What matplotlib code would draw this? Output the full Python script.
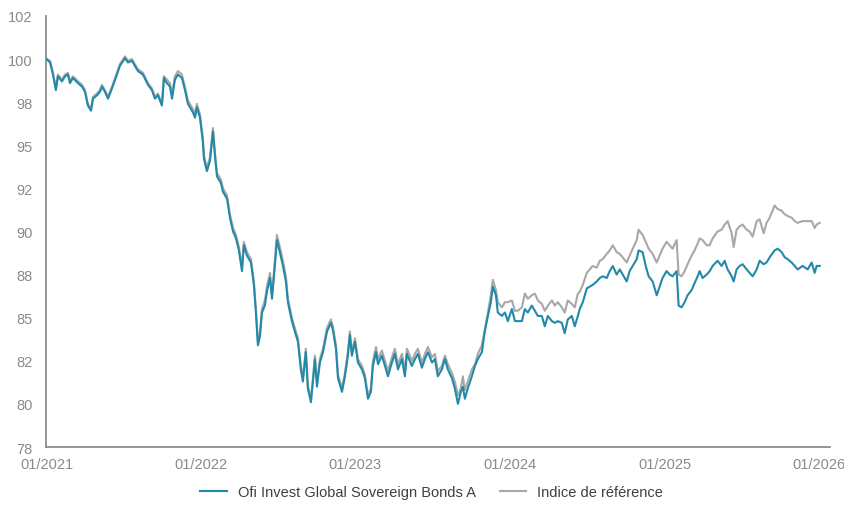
import matplotlib
matplotlib.use("Agg")
import matplotlib.pyplot as plt
import pandas as pd

# ---- data (decimal years, index values) ----
years = [
    2021.000, 2021.023, 2021.042, 2021.061, 2021.074, 2021.100, 2021.120, 2021.139, 2021.152, 2021.171,
    2021.204, 2021.230, 2021.249, 2021.268, 2021.288, 2021.301, 2021.327, 2021.346, 2021.359, 2021.378,
    2021.398, 2021.424, 2021.456, 2021.475, 2021.508, 2021.527, 2021.553, 2021.572, 2021.592, 2021.624,
    2021.657, 2021.682, 2021.702, 2021.721, 2021.747, 2021.760, 2021.779, 2021.799, 2021.812, 2021.831,
    2021.851, 2021.876, 2021.896, 2021.915, 2021.948, 2021.961, 2021.973, 2021.993, 2022.012, 2022.019,
    2022.038, 2022.058, 2022.077, 2022.090, 2022.103, 2022.129, 2022.142, 2022.168, 2022.187, 2022.207,
    2022.226, 2022.245, 2022.265, 2022.277, 2022.297, 2022.323, 2022.342, 2022.355, 2022.368, 2022.381,
    2022.394, 2022.413, 2022.426, 2022.446, 2022.459, 2022.472, 2022.491, 2022.510, 2022.530, 2022.549,
    2022.562, 2022.588, 2022.607, 2022.627, 2022.646, 2022.659, 2022.678, 2022.691, 2022.711, 2022.724,
    2022.737, 2022.750, 2022.769, 2022.789, 2022.802, 2022.815, 2022.840, 2022.853, 2022.873, 2022.886,
    2022.912, 2022.931, 2022.950, 2022.963, 2022.976, 2022.996, 2023.015, 2023.041, 2023.060, 2023.080,
    2023.099, 2023.112, 2023.132, 2023.145, 2023.170, 2023.190, 2023.209, 2023.235, 2023.254, 2023.274,
    2023.300, 2023.319, 2023.332, 2023.364, 2023.384, 2023.403, 2023.429, 2023.448, 2023.468, 2023.494,
    2023.513, 2023.532, 2023.558, 2023.578, 2023.597, 2023.623, 2023.642, 2023.662, 2023.681, 2023.694,
    2023.707, 2023.726, 2023.752, 2023.772, 2023.791, 2023.817, 2023.836, 2023.856, 2023.875, 2023.888,
    2023.908, 2023.920, 2023.946, 2023.966, 2023.985, 2024.011, 2024.031, 2024.050, 2024.076, 2024.095,
    2024.114, 2024.140, 2024.160, 2024.179, 2024.205, 2024.224, 2024.244, 2024.270, 2024.289, 2024.308,
    2024.334, 2024.353, 2024.373, 2024.399, 2024.418, 2024.438, 2024.450, 2024.470, 2024.496, 2024.515,
    2024.534, 2024.560, 2024.580, 2024.599, 2024.625, 2024.644, 2024.664, 2024.689, 2024.709, 2024.728,
    2024.754, 2024.773, 2024.793, 2024.819, 2024.831, 2024.857, 2024.877, 2024.896, 2024.922, 2024.948,
    2024.967, 2024.986, 2025.012, 2025.032, 2025.051, 2025.077, 2025.090, 2025.109, 2025.129, 2025.148,
    2025.174, 2025.193, 2025.213, 2025.226, 2025.245, 2025.271, 2025.291, 2025.310, 2025.342, 2025.368,
    2025.388, 2025.407, 2025.433, 2025.446, 2025.465, 2025.485, 2025.504, 2025.530, 2025.549, 2025.569,
    2025.595, 2025.614, 2025.640, 2025.659, 2025.679, 2025.711, 2025.731, 2025.757, 2025.776, 2025.795,
    2025.821, 2025.841, 2025.860, 2025.892, 2025.925, 2025.951, 2025.970, 2025.983, 2026.003,
]

fund = [
    100.0, 99.8, 99.1, 98.2, 99.0, 98.7, 99.0, 99.1, 98.6, 98.9,
    98.6, 98.4, 98.1, 97.3, 97.0, 97.7, 97.9, 98.1, 98.4, 98.1,
    97.7, 98.3, 99.1, 99.6, 100.05, 99.8, 99.9, 99.6, 99.3, 99.1,
    98.5, 98.2, 97.7, 97.9, 97.3, 98.9, 98.6, 98.4, 97.7, 98.8,
    99.1, 98.9, 98.2, 97.4, 96.9, 96.6, 97.2, 96.6, 95.2, 94.2,
    93.5, 94.1, 95.8, 94.4, 93.2, 92.8, 92.3, 91.9, 90.8, 90.0,
    89.6, 88.9, 87.7, 89.2, 88.6, 88.2, 86.9, 85.3, 83.4, 83.9,
    85.3, 85.7, 86.5, 87.3, 86.1, 87.4, 89.5, 88.8, 88.0, 87.1,
    85.9, 84.8, 84.2, 83.6, 82.0, 81.3, 83.0, 80.9, 80.1, 81.3,
    82.6, 81.0, 82.4, 83.0, 83.6, 84.2, 84.7, 84.3, 83.2, 81.5,
    80.7, 81.6, 82.8, 84.0, 82.8, 83.6, 82.4, 82.0, 81.5, 80.3,
    80.7, 82.2, 83.0, 82.3, 82.8, 82.2, 81.6, 82.4, 82.9, 82.0,
    82.6, 81.6, 82.9, 82.2, 82.6, 82.9, 82.1, 82.6, 83.0, 82.4,
    82.6, 81.6, 82.0, 82.6, 82.0, 81.5, 80.9, 80.0, 80.7, 81.0,
    80.3, 80.9, 81.6, 82.2, 82.6, 83.0, 84.2, 85.1, 85.9, 86.8,
    86.3, 85.3, 85.1, 85.3, 84.8, 85.5, 84.8, 84.8, 84.8, 85.5,
    85.3, 85.7, 85.4, 85.1, 85.1, 84.5, 85.1, 84.8, 84.7, 84.8,
    84.7, 84.1, 84.9, 85.1, 84.5, 85.1, 85.5, 85.9, 86.7, 86.8,
    86.9, 87.1, 87.3, 87.4, 87.3, 87.7, 88.0, 87.5, 87.8, 87.5,
    87.1, 87.7, 88.0, 88.4, 88.9, 88.8, 88.0, 87.4, 87.1, 86.3,
    86.8, 87.3, 87.7, 87.5, 87.4, 87.7, 85.7, 85.6, 85.9, 86.3,
    86.6, 87.0, 87.4, 87.7, 87.3, 87.5, 87.7, 88.0, 88.3, 88.0,
    88.3, 87.8, 87.4, 87.1, 87.8, 88.0, 88.1, 87.8, 87.6, 87.4,
    87.8, 88.3, 88.1, 88.2, 88.5, 88.9, 89.0, 88.8, 88.5, 88.4,
    88.2, 88.0, 87.8, 88.0, 87.8, 88.2, 87.6, 88.0, 88.0,
]

benchmark = [
    100.0, 99.9, 99.2, 98.3, 99.1, 98.8, 99.1, 99.2, 98.7, 99.0,
    98.7, 98.5, 98.2, 97.4, 97.1, 97.8, 98.0, 98.2, 98.5, 98.2,
    97.8, 98.4, 99.2, 99.7, 100.15, 99.9, 100.0, 99.7, 99.4, 99.2,
    98.6, 98.3, 97.8, 98.0, 97.4, 99.0, 98.8, 98.6, 97.9, 99.0,
    99.3, 99.1, 98.4, 97.6, 97.1, 96.8, 97.4, 96.8, 95.4, 94.4,
    93.7, 94.3, 96.0, 94.6, 93.4, 93.0, 92.5, 92.1, 91.0, 90.2,
    89.8, 89.1, 87.9, 89.4, 88.8, 88.4, 87.1, 85.5, 83.6, 84.1,
    85.5, 86.0, 86.8, 87.6, 86.4, 87.7, 89.8, 89.1, 88.3, 87.4,
    86.1, 85.0, 84.4, 83.8, 82.2, 81.5, 83.2, 81.1, 80.3, 81.5,
    82.8, 81.2, 82.6, 83.2, 83.8, 84.4, 84.9, 84.5, 83.4, 81.7,
    80.9, 81.8, 83.0, 84.2, 83.0, 83.8, 82.6, 82.2, 81.7, 80.5,
    80.9, 82.5, 83.3, 82.6, 83.1, 82.5, 81.9, 82.7, 83.2, 82.3,
    82.9, 81.9, 83.2, 82.5, 82.9, 83.2, 82.4, 82.9, 83.3, 82.7,
    82.9, 81.9, 82.2, 82.8, 82.3, 81.8, 81.3, 80.5, 80.9, 81.6,
    80.8, 81.3, 82.0, 82.3, 82.9, 83.4, 84.3, 85.3, 86.3, 87.2,
    86.6, 85.9, 85.6, 85.9, 85.9, 86.0, 85.4, 85.4, 85.6, 86.4,
    86.1, 86.3, 86.4, 86.0, 85.8, 85.4, 85.7, 86.0, 85.7, 85.9,
    85.6, 85.3, 86.0, 85.8, 85.6, 86.4, 86.5, 86.9, 87.6, 87.8,
    88.0, 87.9, 88.3, 88.4, 88.7, 88.9, 89.2, 88.8, 88.7, 88.5,
    88.2, 88.6, 89.0, 89.5, 90.1, 89.8, 89.4, 89.0, 88.7, 88.2,
    88.6, 89.0, 89.4, 89.2, 89.0, 89.5, 87.5, 87.4, 87.7, 88.1,
    88.6, 88.9, 89.3, 89.6, 89.5, 89.2, 89.2, 89.6, 90.0, 90.1,
    90.4, 90.6, 89.9, 89.1, 90.1, 90.3, 90.4, 90.1, 90.0, 89.7,
    90.6, 90.7, 89.9, 90.5, 90.8, 91.5, 91.3, 91.2, 91.0, 90.9,
    90.8, 90.6, 90.5, 90.6, 90.6, 90.6, 90.2, 90.4, 90.5,
]

series_names = ["Ofi Invest Global Sovereign Bonds A", "Indice de référence"]
x_tick_years = [2021, 2022, 2023, 2024, 2025, 2026]
x_tick_labels = ["01/2021", "01/2022", "01/2023", "01/2024", "01/2025", "01/2026"]
y_ticks = [77.5, 80, 82.5, 85, 87.5, 90, 92.5, 95, 97.5, 100, 102.5]
y_tick_labels = ["78", "80", "82", "85", "88", "90", "92", "95", "98", "100", "102"]

# ---- build dates ----
start = pd.Timestamp("2021-01-01")
def to_date(y):
    return start + pd.to_timedelta((y - 2021.0) * 365.25, unit="D")

dates = [to_date(y) for y in years]

plt.rcParams["font.family"] = ["Liberation Sans", "DejaVu Sans"]

fig = plt.figure(figsize=(8.45, 5.06), dpi=100)
ax = fig.add_axes([0.055, 0.1146, 0.927, 0.852])

blue = "#2389a8"
grey = "#a8a8a8"

ax.plot(dates, benchmark, color=grey, lw=1.5, label=series_names[1], zorder=2)
ax.plot(dates, fund, color=blue, lw=1.5, label=series_names[0], zorder=3)

ax.set_ylim(77.5, 102.5)
ax.set_xlim(to_date(2021.0), to_date(2026.068))
ax.set_yticks(y_ticks)
ax.set_yticklabels(y_tick_labels)
ax.set_xticks([pd.Timestamp(f"{y}-01-01") for y in x_tick_years])
ax.set_xticklabels(x_tick_labels)

for s in ["top", "right"]:
    ax.spines[s].set_visible(False)
for s in ["left", "bottom"]:
    ax.spines[s].set_color("#8c8c8c")
    ax.spines[s].set_linewidth(1.3)

ax.tick_params(axis="both", length=0, labelsize=10.5, labelcolor="#8a8a8a")
ax.tick_params(axis="y", pad=10)
ax.tick_params(axis="x", pad=7)

handles, labels = ax.get_legend_handles_labels()
leg = fig.legend(handles[::-1], labels[::-1], loc="center", bbox_to_anchor=(0.511, 0.026),
                 ncol=2, frameon=False, fontsize=10.5, handlelength=1.8,
                 columnspacing=1.6, handletextpad=0.8)
for t in leg.get_texts():
    t.set_color("#404040")

fig.savefig("out.png", dpi=100)
